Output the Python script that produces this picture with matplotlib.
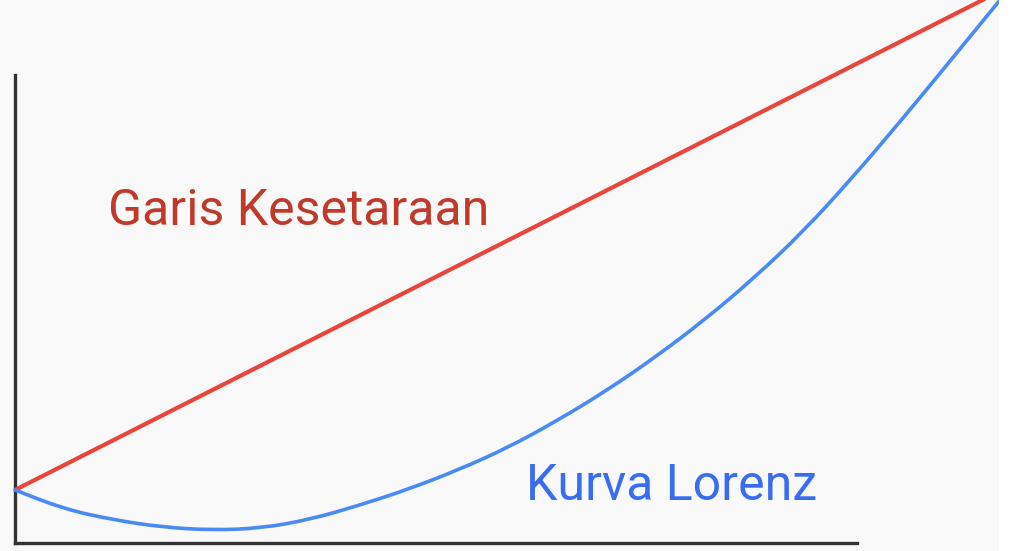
import numpy as np
import matplotlib
matplotlib.use("Agg")
import matplotlib.pyplot as plt
from matplotlib.patches import Rectangle, PathPatch
from matplotlib.path import Path

# cumulative share of population / income
pop = [0.0, 0.05, 0.10, 0.15, 0.20, 0.25, 0.30, 0.35, 0.40, 0.45, 0.50,
       0.55, 0.60, 0.65, 0.70, 0.75, 0.80, 0.85, 0.90, 0.95, 1.0]
lorenz = [0.0, -0.039, -0.061, -0.076, -0.082, -0.078, -0.060, -0.031, 0.002, 0.041, 0.086,
          0.141, 0.202, 0.271, 0.347, 0.432, 0.527, 0.637, 0.755, 0.877, 1.0]
equal_x = [0.0, 1.0]
equal_y = [0.0, 1.018]


def smooth_path(xs, ys):
    # quadratic segments through midpoints -> smooth drawn line
    pts = np.column_stack([xs, ys])
    verts = [pts[0], (pts[0] + pts[1]) / 2]
    codes = [Path.MOVETO, Path.LINETO]
    for i in range(1, len(pts) - 1):
        verts += [pts[i], (pts[i] + pts[i + 1]) / 2]
        codes += [Path.CURVE3, Path.CURVE3]
    verts.append(pts[-1])
    codes.append(Path.LINETO)
    return Path(verts, codes)


fig = plt.figure(figsize=(10.24, 5.51), dpi=100)
fig.patch.set_facecolor("#f9f9f9")
fig.patches.append(Rectangle((999/1024, 0), 25/1024, 1, transform=fig.transFigure,
                             facecolor="white", edgecolor="none", zorder=0))

ax = fig.add_axes([15/1024, 8/551, 985/1024, 543/551])
ax.set_facecolor("none")
ax.set_xlim(0, 1)
ax.set_ylim(-0.1082, 1)

ax.plot(equal_x, equal_y, color="#e8453c", lw=3.0, solid_capstyle="round", zorder=3)
ax.add_patch(PathPatch(smooth_path(pop, lorenz), facecolor="none", edgecolor="#4a8af4",
                       lw=2.6, capstyle="round", clip_on=False, zorder=3))

ax.text(0.288, 0.541, "Garis Kesetaraan", color="#c0392b", fontsize=36,
        family="Roboto", ha="center", va="baseline")
ax.text(0.519, -0.020, "Kurva Lorenz", color="#3a6cf2", fontsize=36,
        family="Roboto", ha="left", va="baseline")

for s in ["top", "right"]:
    ax.spines[s].set_visible(False)
ax.spines["left"].set_bounds(-0.1082, 0.847)
ax.spines["bottom"].set_bounds(0, 0.855)
for s in ["left", "bottom"]:
    ax.spines[s].set_color("#333333")
    ax.spines[s].set_linewidth(2.4)
ax.set_xticks([])
ax.set_yticks([])

fig.savefig("out.png", dpi=100, facecolor=fig.get_facecolor())
